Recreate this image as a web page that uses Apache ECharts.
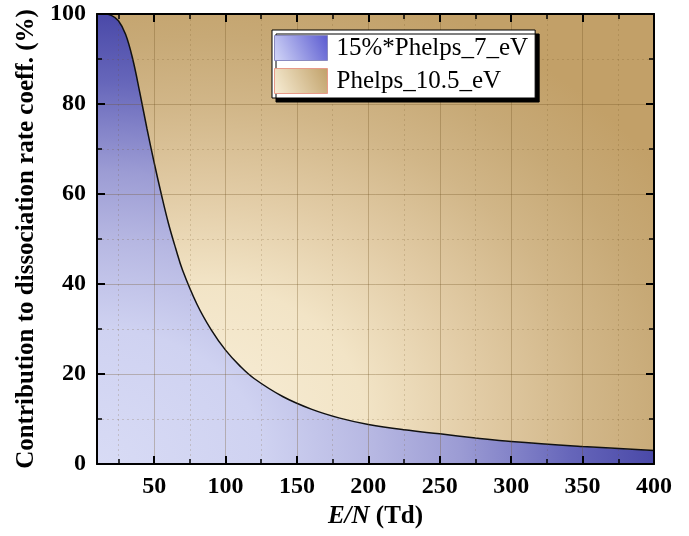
<!DOCTYPE html>
<html>
<head>
<meta charset="utf-8">
<script src="https://cdn.jsdelivr.net/npm/echarts@6/dist/echarts.min.js"></script>
<style>html,body{margin:0;padding:0;background:#fff}#c{width:689px;height:536px}</style>
</head>
<body>
<div id="c"></div>
<script>
// ---- data ----
const eN = [10, 15, 20, 25, 30, 35, 40, 45, 50, 55, 60, 65, 70, 80, 90, 100, 110, 120, 140, 160, 180, 200, 225, 250, 275, 300, 350, 400];
const phelps7 = [100, 100, 99.7, 98.5, 95.5, 90, 82.5, 74.5, 67, 60, 53.5, 48, 43, 35.5, 29.8, 25.3, 21.8, 19, 15, 12.2, 10.2, 8.8, 7.6, 6.7, 5.8, 5.0, 3.9, 3.0];
const phelps105 = [0, 0, 0.3, 1.5, 4.5, 10, 17.5, 25.5, 33, 40, 46.5, 52, 57, 64.5, 70.2, 74.7, 78.2, 81, 85, 87.8, 89.8, 91.2, 92.4, 93.3, 94.2, 95.0, 96.1, 97.0];
const xTicksMin = 10, xTicksMax = 400;
const yTicks = [0, 20, 40, 60, 80, 100];
const seriesNames = ['15%*Phelps_7_eV', 'Phelps_10.5_eV'];

// ---- layout / style ----
const W = 689, H = 536;
const G = {left: 97, top: 14, right: 35, bottom: 72};
const gw = W - G.left - G.right, gh = H - G.top - G.bottom;

function ellipticFill(cx, cy, stops) {
  const c = document.createElement('canvas');
  c.width = W; c.height = H;
  const ctx = c.getContext('2d');
  ctx.translate(G.left + cx * gw, G.top + cy * gh);
  ctx.scale(gw / gh, 1);
  const g = ctx.createRadialGradient(0, 0, 0, 0, 0, gh);
  stops.forEach(s => g.addColorStop(s[0], s[1]));
  ctx.fillStyle = g;
  ctx.fillRect(-2 * W, -2 * H, 4 * W, 4 * H);
  return c;
}
const blueFill = ellipticFill(0, 1, [
  [0, '#d8dbf5'], [0.3, '#cfd2f1'], [0.5, '#b6b7e2'], [0.65, '#9c9cd4'],
  [0.75, '#8282c8'], [0.85, '#6666ba'], [1, '#4a49a8']
]);
const tanFill = ellipticFill(0.18, 0.9, [
  [0, '#f8eed8'], [0.3, '#f2e4c6'], [0.5, '#e2cca6'], [0.7, '#d1b688'],
  [0.85, '#c7a976'], [1, '#c2a068']
]);

// value first, E/N second, so that stacking is done on the value (y) dimension
const rows = (ys) => eN.map((x, i) => [ys[i], x]);
const serif = "'Liberation Serif', 'Times New Roman', serif";

const chart = echarts.init(document.getElementById('c'), null, {renderer: 'canvas'});
const axisCommon = {
  axisLine: {show: true, onZero: false, lineStyle: {color: '#000', width: 2}},
  axisTick: {show: true, inside: true, length: 8, lineStyle: {color: '#000', width: 2}},
  minorTick: {show: true, splitNumber: 2, length: 5, lineStyle: {color: '#000', width: 1.5}}
};
chart.setOption({
  animation: false,
  backgroundColor: '#fff',
  grid: {left: G.left, top: G.top, right: G.right, bottom: G.bottom},
  legend: {
    orient: 'vertical', left: 272, top: 30,
    padding: [5, 7, 4, 2], itemGap: 7, itemWidth: 53, itemHeight: 25,
    backgroundColor: '#fff', borderColor: '#000', borderWidth: 1, borderRadius: 0,
    shadowColor: '#000', shadowBlur: 0, shadowOffsetX: 4, shadowOffsetY: 4,
    textStyle: {fontFamily: serif, fontSize: 25, color: '#000', padding: [0, 0, 0, 4]},
    data: [
      {name: seriesNames[0], icon: 'rect', lineStyle: {width: 0, opacity: 0},
       itemStyle: {color: new echarts.graphic.LinearGradient(0, 1, 1, 0, [{offset: 0, color: '#d4d8f8'}, {offset: 1, color: '#5a5ad0'}]), borderColor: '#8a8ac0', borderWidth: 1}},
      {name: seriesNames[1], icon: 'rect', lineStyle: {width: 0, opacity: 0},
       itemStyle: {color: new echarts.graphic.LinearGradient(0, 1, 1, 0, [{offset: 0, color: '#f8eed6'}, {offset: 1, color: '#c0a068'}]), borderColor: '#e89a88', borderWidth: 1}}
    ]
  },
  xAxis: [
    Object.assign({
      type: 'value', position: 'bottom', min: xTicksMin, max: xTicksMax, splitNumber: 8, z: 3,
      name: '{i|E/N} (Td)', nameLocation: 'middle', nameGap: 40,
      nameTextStyle: {fontFamily: serif, fontSize: 25, fontWeight: 'bold', color: '#000',
        rich: {i: {fontFamily: serif, fontSize: 25, fontWeight: 'bold', fontStyle: 'italic', color: '#000'}}},
      axisLabel: {showMinLabel: false, margin: 11, fontFamily: serif, fontSize: 24, fontWeight: 'bold', color: '#000'},
      splitLine: {show: true, lineStyle: {color: 'rgba(110,80,30,0.3)', width: 1}},
      minorSplitLine: {show: true, lineStyle: {color: 'rgba(110,80,30,0.2)', width: 1, type: [2, 3]}}
    }, axisCommon),
    Object.assign({
      type: 'value', position: 'top', min: xTicksMin, max: xTicksMax, splitNumber: 8, z: 3,
      axisLabel: {show: false}, splitLine: {show: false}
    }, axisCommon)
  ],
  yAxis: [
    Object.assign({
      type: 'value', position: 'left', min: yTicks[0], max: yTicks[yTicks.length - 1], interval: 20, z: 3,
      name: 'Contribution to dissociation rate coeff. (%)', nameLocation: 'middle', nameGap: 58,
      nameTextStyle: {fontFamily: serif, fontSize: 25, fontWeight: 'bold', color: '#000'},
      axisLabel: {margin: 11, fontFamily: serif, fontSize: 24, fontWeight: 'bold', color: '#000'},
      splitLine: {show: true, lineStyle: {color: 'rgba(110,80,30,0.3)', width: 1}},
      minorSplitLine: {show: true, lineStyle: {color: 'rgba(110,80,30,0.2)', width: 1, type: [2, 3]}}
    }, axisCommon),
    Object.assign({
      type: 'value', position: 'right', min: yTicks[0], max: yTicks[yTicks.length - 1], interval: 20, z: 3,
      axisLabel: {show: false}, splitLine: {show: false}
    }, axisCommon)
  ],
  series: [
    {name: seriesNames[0], type: 'line', stack: 'total', data: rows(phelps7), encode: {x: 1, y: 0},
     smooth: 0.4, showSymbol: false, symbol: 'none', lineStyle: {width: 0, opacity: 0},
     itemStyle: {color: '#5a5ad0'},
     areaStyle: {color: {image: blueFill, repeat: 'no-repeat'}, opacity: 1}, z: 1},
    {name: seriesNames[1], type: 'line', stack: 'total', data: rows(phelps105), encode: {x: 1, y: 0},
     smooth: 0.4, showSymbol: false, symbol: 'none', lineStyle: {width: 0, opacity: 0},
     itemStyle: {color: '#c0a068'},
     areaStyle: {color: {image: tanFill, repeat: 'no-repeat'}, opacity: 1}, z: 1},
    {name: 'boundary', type: 'line', data: rows(phelps7), encode: {x: 1, y: 0}, smooth: 0.4,
     showSymbol: false, symbol: 'none', lineStyle: {color: '#111', width: 1.5}, z: 2, silent: true}
  ]
});
</script>
</body>
</html>
